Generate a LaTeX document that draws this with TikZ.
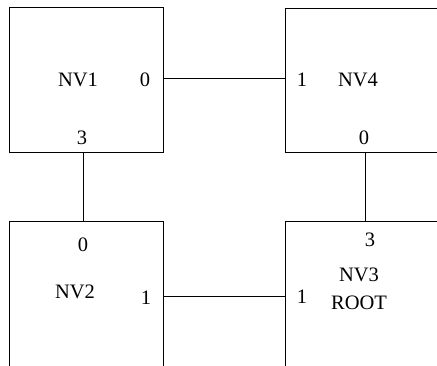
\documentclass[tikz,border=0pt]{standalone}
\usepackage{fontspec}
\setmainfont{Liberation Serif}
\begin{document}
\begin{tikzpicture}[x=1pt,y=-1pt,
  box/.style={draw,line width=1pt,rectangle,inner sep=0pt},
  lbl/.style={font=\fontsize{20.5}{22}\selectfont,inner sep=0pt},
  wire/.style={line width=1pt}]
\useasboundingbox (0,0) rectangle (437,366);
\clip (0,0) rectangle (437,366);
\node[box,minimum width=154pt,minimum height=145pt] (NV1) at (86,80.5) {};
\node[box,minimum width=170pt,minimum height=144pt] (NV4) at (370,81) {};
\node[box,minimum width=154pt,minimum height=160pt] (NV2) at (86,302) {};
\node[box,minimum width=170pt,minimum height=160pt] (NV3) at (370,302) {};
% labels
\node[lbl] (t1) at (78,80) {NV1};
\node[lbl] (p10) at (145,80) {0};
\node[lbl] (p13) at (82,138) {3};
\node[lbl] (t4) at (358,80) {NV4};
\node[lbl] (p41) at (302,80) {1};
\node[lbl] (p40) at (364,138) {0};
\node[lbl] (t2) at (75,292) {NV2};
\node[lbl] (p20) at (83,245) {0};
\node[lbl] (p21) at (146,298) {1};
\node[lbl] (t3) at (359,275) {NV3};
\node[lbl] (t3b) at (359,303) {ROOT};
\node[lbl] (p33) at (370,240) {3};
\node[lbl] (p31) at (302,297) {1};
% connectors
\draw[wire] (NV1.east |- 0,79) -- (NV4.west |- 0,79);
\draw[wire] (NV2.east |- 0,297) -- (NV3.west |- 0,297);
\draw[wire] (NV1.south -| 83,0) -- (NV2.north -| 83,0);
\draw[wire] (NV4.south -| 365,0) -- (NV3.north -| 365,0);
\end{tikzpicture}
\end{document}
